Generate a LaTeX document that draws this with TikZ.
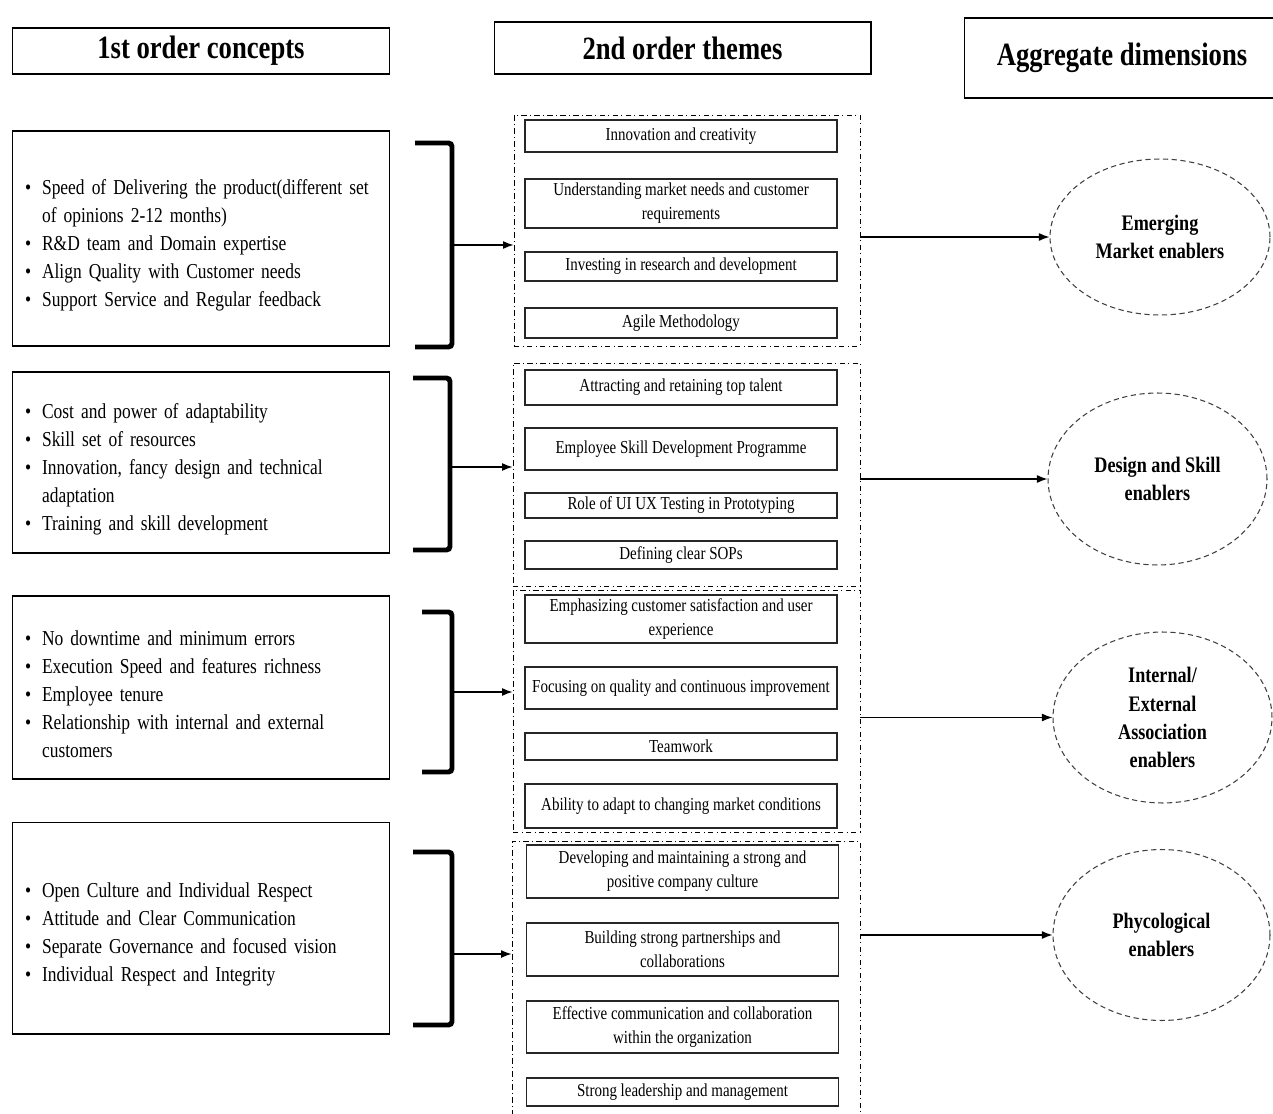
\documentclass[tikz,border=0pt]{standalone}
\usepackage{fontspec}
\setmainfont[FakeStretch=0.82]{Liberation Serif}
\usetikzlibrary{arrows.meta,shapes.geometric}

\newcommand{\bulletline}[1]{\par\noindent\hangindent=9.7pt\hangafter=1\hbox to 9.7pt{\textbullet\hfil}#1\par}

\tikzset{
  headbox/.style={draw,line width=0.6pt,inner sep=0pt,font=\bfseries\fontsize{18.5}{22}\selectfont},
  conceptbox/.style={draw,line width=0.6pt,text width=7.04cm,inner xsep=0.26cm,minimum height=#1,
    align=left,font=\fontsize{12.1}{15.9}\selectfont},
  groupbox/.style={draw,dash dot,line width=0.5pt,inner sep=0pt},
  themebox/.style={draw,black!85,text=black,line width=0.8pt,minimum width=6.24cm,minimum height=#1,
    inner sep=0pt,align=center,font=\fontsize{10.4}{13.6}\selectfont},
  dimension/.style={ellipse,draw,black!75,text=black,dashed,dash pattern=on 3pt off 2pt,line width=0.6pt,
    inner sep=0pt,align=center,font=\bfseries\fontsize{12.6}{16}\selectfont},
  bracket/.style={line width=2.8pt,rounded corners=2pt},
  link/.style={->,line width=0.7pt}
}

\begin{document}
\begin{tikzpicture}[x=0.02cm,y=-0.02cm,>={Latex[length=6pt,width=4.5pt]}]
  \fill[white] (0,0) rectangle (1273,1114);
  \useasboundingbox (0,0) rectangle (1273,1114);

  % headers
  \node[headbox,minimum width=7.56cm,minimum height=0.92cm] (h1) at (201,51) {1st order concepts};
  \node[headbox,minimum width=7.54cm,minimum height=1.04cm] (h2) at (682.5,48) {2nd order themes};
  \node[headbox,minimum width=6.32cm,minimum height=1.6cm] (h3) at (1122,58) {Aggregate dimensions};

  % 1st order concepts
  \node[conceptbox=4.3cm] (c1) at (201,238.5) {%
    \bulletline{Speed of Delivering the product(different set\newline of opinions 2-12 months)}%
    \bulletline{R\&D team and Domain expertise}%
    \bulletline{Align Quality with Customer needs}%
    \bulletline{Support Service and Regular feedback}};
  \node[conceptbox=3.62cm] (c2) at (201,462.5) {%
    \bulletline{Cost and power of adaptability}%
    \bulletline{Skill set of resources}%
    \bulletline{Innovation, fancy design and technical\newline adaptation}%
    \bulletline{Training and skill development}};
  \node[conceptbox=3.66cm] (c3) at (201,687.5) {%
    \bulletline{No downtime and minimum errors}%
    \bulletline{Execution Speed and features richness}%
    \bulletline{Employee tenure}%
    \bulletline{Relationship with internal and external\newline customers}};
  \node[conceptbox=4.24cm] (c4) at (201,928) {%
    \bulletline{Open Culture and Individual Respect}%
    \bulletline{Attitude and Clear Communication}%
    \bulletline{Separate Governance and focused vision}%
    \bulletline{Individual Respect and Integrity}};

  % brackets
  \draw[bracket] (415,143) -- (452,143) -- (452,347) -- (415,347);
  \draw[bracket] (413,378) -- (450,378) -- (450,550) -- (413,550);
  \draw[bracket] (422,612) -- (452,612) -- (452,772) -- (422,772);
  \draw[bracket] (413,852) -- (452,852) -- (452,1025) -- (413,1025);
  \coordinate (b1) at (452,245);
  \coordinate (b2) at (450,467);
  \coordinate (b3) at (452,692);
  \coordinate (b4) at (452,954);

  % 2nd order themes
  \node[groupbox,minimum width=6.92cm,minimum height=4.62cm] (g1) at (687,230.5) {};
  \node[groupbox,minimum width=6.94cm,minimum height=4.46cm] (g2) at (686.5,474.5) {};
  \node[groupbox,minimum width=6.94cm,minimum height=4.84cm] (g3) at (686.5,711) {};
  \node[groupbox,minimum width=6.96cm,minimum height=5.66cm] (g4) at (686,982.5) {};

  \node[themebox=0.64cm] (t1) at (681,136) {Innovation and creativity};
  \node[themebox=0.98cm] (t2) at (681,203.5) {Understanding market needs and customer\\requirements};
  \node[themebox=0.58cm] (t3) at (681,266.5) {Investing in research and development};
  \node[themebox=0.60cm] (t4) at (681,323) {Agile Methodology};

  \node[themebox=0.70cm] (t5) at (681,387.5) {Attracting and retaining top talent};
  \node[themebox=0.84cm] (t6) at (681,449) {Employee Skill Development Programme};
  \node[themebox=0.50cm] (t7) at (681,505.5) {Role of UI UX Testing in Prototyping};
  \node[themebox=0.56cm] (t8) at (681,555) {Defining clear SOPs};

  \node[themebox=0.96cm] (t9) at (681,619) {Emphasizing customer satisfaction and user\\experience};
  \node[themebox=0.84cm] (t10) at (681,688) {Focusing on quality and continuous improvement};
  \node[themebox=0.54cm] (t11) at (681,746.5) {Teamwork};
  \node[themebox=0.88cm] (t12) at (681,806) {Ability to adapt to changing market conditions};

  \node[themebox=1.06cm] (t13) at (682.5,871.5) {Developing and maintaining a strong and\\positive company culture};
  \node[themebox=1.06cm] (t14) at (682.5,949.5) {Building strong partnerships and\\collaborations};
  \node[themebox=1.04cm] (t15) at (682.5,1027) {Effective communication and collaboration\\within the organization};
  \node[themebox=0.56cm] (t16) at (682.5,1092) {Strong leadership and management};

  % aggregate dimensions
  \node[dimension,minimum width=4.4cm,minimum height=3.12cm] (e1) at (1160,237) {Emerging\\Market enablers};
  \node[dimension,minimum width=4.38cm,minimum height=3.44cm] (e2) at (1157.5,479) {Design and Skill\\enablers};
  \node[dimension,minimum width=4.38cm,minimum height=3.42cm] (e3) at (1162.5,717.5) {Internal/\\External\\Association\\enablers};
  \node[dimension,minimum width=4.34cm,minimum height=3.42cm] (e4) at (1161.5,935) {Phycological\\enablers};

  % connectors
  \draw[link] (b1) -- (b1 -| g1.west);
  \draw[link] (b2) -- (b2 -| g2.west);
  \draw[link] (b3) -- (b3 -| g3.west);
  \draw[link] (b4) -- (b4 -| g4.west);
  \draw[link] (g1.east |- e1.west) -- (e1.west);
  \draw[link] (g2.east |- e2.west) -- (e2.west);
  \draw[link] (g3.east |- e3.west) -- (e3.west);
  \draw[link] (g4.east |- e4.west) -- (e4.west);
\end{tikzpicture}
\end{document}
